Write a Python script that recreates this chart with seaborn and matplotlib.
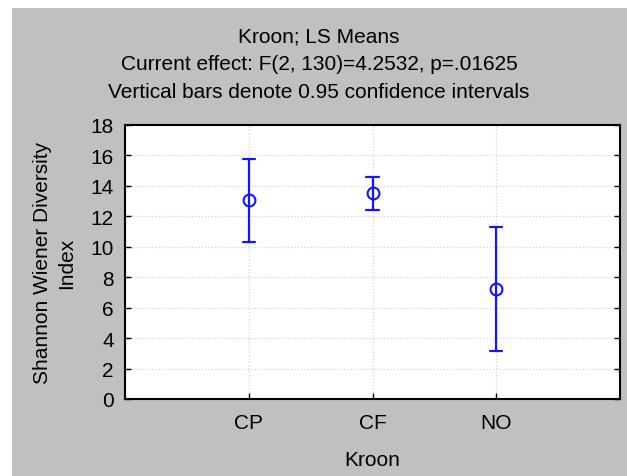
import matplotlib
matplotlib.use("Agg")
import matplotlib.pyplot as plt
import seaborn as sns
import pandas as pd
from matplotlib.patches import Rectangle

# LS means with 0.95 confidence limits
groups = ["CP", "CF", "NO"]
means = [13.09, 13.51, 7.25]
lower = [10.34, 12.40, 3.17]
upper = [15.77, 14.61, 11.32]
yticks = [0, 2, 4, 6, 8, 10, 12, 14, 16, 18]

# long table: lower / mean / upper per group -> median is the mean, full range is the CI
rows = []
for g, lo, m, hi in zip(groups, lower, means, upper):
    for v in (lo, m, hi):
        rows.append({"Kroon": g, "value": v})
df = pd.DataFrame(rows)

sns.set_style("white")
plt.rcParams["font.family"] = ["Liberation Sans", "DejaVu Sans"]
plt.rcParams["text.color"] = "black"
plt.rcParams["axes.labelcolor"] = "black"

fig = plt.figure(figsize=(6.27, 4.77), dpi=100, facecolor="white")
fig.patches.append(Rectangle((12 / 627, 0), 1, 1 - 9 / 477, transform=fig.transFigure,
                             facecolor="#c0c0c0", edgecolor="none", zorder=-10))
ax = fig.add_axes([125 / 627, 77 / 477, 495 / 627, 274 / 477])
ax.set_facecolor("white")

blue = "#1414ff"
sns.pointplot(data=df, x="Kroon", y="value", order=groups, estimator="median",
              errorbar=("pi", 100), linestyles="none", markers="o", color=blue,
              capsize=0.1, markersize=8.5, markerfacecolor="white", markeredgewidth=1.5,
              err_kws={"linewidth": 1.6}, ax=ax)

ax.set_xlim(-1, 3)
ax.set_ylim(0, 18)
ax.set_yticks(yticks)
ax.grid(True, linestyle=":", color="#d4d4d4", linewidth=0.9)
ax.set_axisbelow(True)
for s in ax.spines.values():
    s.set_color("black")
    s.set_linewidth(1.5)
ax.tick_params(axis="both", direction="in", length=4, width=1, labelsize=15,
               colors="black")
ax.tick_params(axis="y", right=True, left=True, pad=8)
ax.tick_params(axis="x", bottom=True, pad=10)

ax.set_xlabel("Kroon", fontsize=15, labelpad=13)
ax.set_ylabel("Shannon Wiener Diversity\nIndex", fontsize=15, labelpad=10,
              linespacing=1.4)
fig.text(319 / 627, 1 - 37 / 477, "Kroon; LS Means", fontsize=15, ha="center", va="center")
fig.text(319 / 627, 1 - 65 / 477, "Current effect: F(2, 130)=4.2532, p=.01625",
         fontsize=15, ha="center", va="center")
fig.text(319 / 627, 1 - 93 / 477, "Vertical bars denote 0.95 confidence intervals",
         fontsize=15, ha="center", va="center")

fig.savefig("out.png", dpi=100, facecolor=fig.get_facecolor())
